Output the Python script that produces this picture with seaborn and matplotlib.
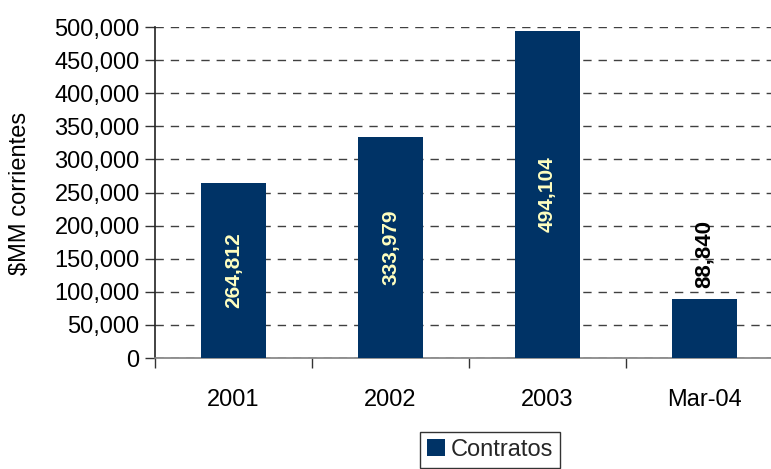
import matplotlib
matplotlib.use("Agg")
import matplotlib.pyplot as plt
from matplotlib.patches import Patch
from matplotlib.ticker import FuncFormatter, FixedLocator
import seaborn as sns
import pandas as pd

categories = ["2001", "2002", "2003", "Mar-04"]
contratos = [264812, 333979, 494104, 88840]
series_name = "Contratos"
y_label = "$MM corrientes"

bar_color = "#003366"
inside_color = "#FFFFC0"

sns.set_theme(style="white")
plt.rcParams["font.family"] = ["Liberation Sans", "DejaVu Sans"]

df = pd.DataFrame({"cat": categories, "value": contratos})

fig = plt.figure(figsize=(7.71, 4.69), dpi=100)
ax = fig.add_axes([155 / 771, 1 - 358 / 469, 628 / 771, 331 / 469])

sns.barplot(data=df, x="cat", y="value", color=bar_color, width=0.41,
            saturation=1, ax=ax, zorder=3)
for p in ax.patches:
    p.set_edgecolor("none")

ax.set_xlim(-0.5, 3.5)
ax.set_ylim(0, 500000)
ax.yaxis.set_major_locator(FixedLocator(range(0, 500001, 50000)))
ax.yaxis.set_major_formatter(FuncFormatter(lambda v, _: f"{int(v):,}"))
ax.grid(axis="y", linestyle=(0, (6, 5)), color="#404040", linewidth=1.0, zorder=1)
ax.grid(axis="x", visible=False)

# category labels on minor ticks, boundary marks on major ticks
ax.xaxis.set_major_locator(FixedLocator([-0.5, 0.5, 1.5, 2.5, 3.5]))
ax.xaxis.set_minor_locator(FixedLocator(range(len(categories))))
ax.set_xticklabels([], minor=False)
ax.set_xticklabels(categories, minor=True)
ax.tick_params(axis="x", which="major", direction="out", length=7, width=1,
               color="#333333", bottom=True)
ax.tick_params(axis="x", which="minor", length=0, pad=22, labelsize=17,
               labelcolor="black")
ax.tick_params(axis="y", direction="out", length=7, width=1, color="#333333",
               left=True, labelsize=17, labelcolor="black", pad=4)

for s in ["top", "right"]:
    ax.spines[s].set_visible(False)
ax.spines["left"].set_color("#222222")
ax.spines["left"].set_linewidth(1.2)
ax.spines["bottom"].set_color("#808080")
ax.spines["bottom"].set_linewidth(1.2)

ax.set_xlabel("")
ax.set_ylabel(y_label, fontsize=17, color="black")
ax.yaxis.set_label_coords(-124 / 628, 0.497)

for i, v in enumerate(contratos):
    if v > 150000:
        ax.text(i, v / 2, f"{v:,}", rotation=90, ha="center", va="center",
                color=inside_color, fontsize=15, fontweight="bold", zorder=4)
    else:
        ax.annotate(f"{v:,}", (i, v), xytext=(0, 8), textcoords="offset points",
                    rotation=90, ha="center", va="bottom",
                    color="black", fontsize=16, fontweight="bold", zorder=4)

fig.legend(handles=[Patch(facecolor=bar_color, edgecolor="none", label=series_name)],
           loc="upper center", bbox_to_anchor=(490 / 771, 1 - 432 / 469),
           frameon=True, fancybox=False, edgecolor="black", fontsize=17,
           handlelength=0.75, handleheight=0.75, handletextpad=0.25,
           borderpad=0.3, borderaxespad=0)

fig.savefig("out.png", dpi=100)
